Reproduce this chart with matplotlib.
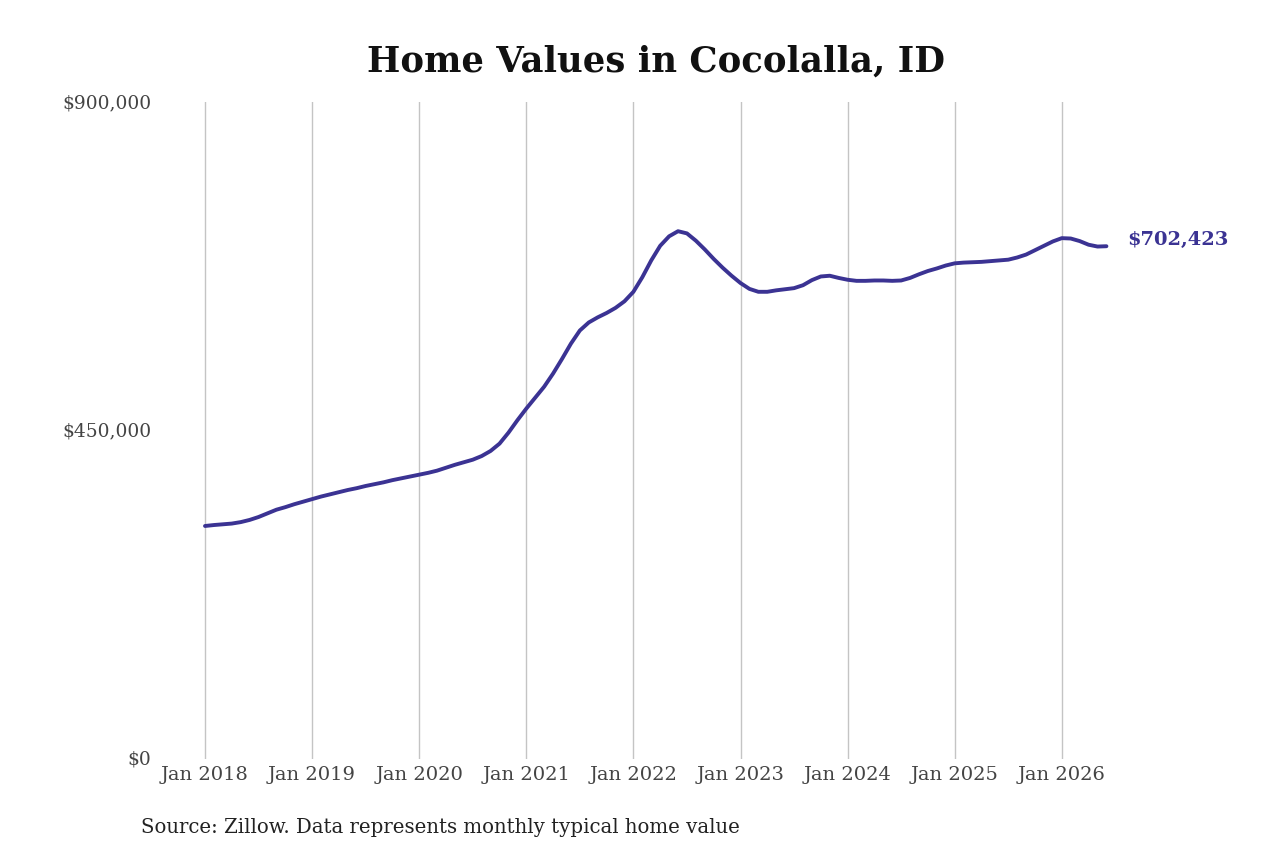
import matplotlib
matplotlib.use("Agg")
import matplotlib.pyplot as plt
from matplotlib.ticker import FuncFormatter

# Monthly typical home value, Jan 2018 .. Jun 2026 (in thousands of dollars)
values_k = [
    319.2, 320.5, 321.5, 322.5, 324.5, 327.5, 331.5, 336.5, 341.5, 345, 349, 352.5,
    356, 359.5, 362.5, 365.5, 368.5, 371, 374, 376.5, 379, 382, 384.5, 387,
    389.5, 392, 395, 399, 403, 406.5, 410, 415, 422, 432, 447, 464,
    480, 495, 510, 528, 548, 569, 587, 598, 605, 611, 618, 627,
    640, 660, 683, 703, 716, 723, 720, 710, 698, 685, 673, 662,
    652, 644, 640, 640, 642, 643.5, 645, 649, 656, 661, 662, 659,
    656.5, 655, 655, 655.5, 655.5, 655, 655.5, 659, 664, 668.5, 672, 676,
    679, 680, 680.5, 681, 682, 683, 684, 687, 691, 697, 703, 709,
    713.5, 713, 709.5, 704.5, 702, 702.423,
]
months = list(range(len(values_k)))
tick_years = [2018, 2019, 2020, 2021, 2022, 2023, 2024, 2025, 2026]
tick_labels = [f"Jan {y}" for y in tick_years]
ytick_values = [0, 450000, 900000]
title = "Home Values in Cocolalla, ID"
source = "Source: Zillow. Data represents monthly typical home value"
last_label = "$702,423"

line_color = "#3b3393"
values = [v * 1000 for v in values_k]

plt.rcParams['font.family'] = ['DejaVu Serif']
fig = plt.figure(figsize=(12.8, 8.53), dpi=100)
W, H = 1280, 853
left_px, right_px, top_px, bottom_px = 190, 1115, 103, 760
ax = fig.add_axes([left_px / W, 1 - bottom_px / H, (right_px - left_px) / W, (bottom_px - top_px) / H])

ax.plot(months, values, color=line_color, linewidth=2.8, solid_capstyle='round')

# x mapping: Jan 2018 at px 205, 8.925 px per month
px_per_month = 8.925
x0 = (left_px - 205) / px_per_month
x1 = (right_px - 205) / px_per_month
ax.set_xlim(x0, x1)
ax.set_ylim(0, 900000)

ax.set_xticks([(y - 2018) * 12 for y in tick_years])
ax.set_xticklabels(tick_labels)
ax.set_yticks(ytick_values)
ax.yaxis.set_major_formatter(FuncFormatter(lambda v, p: f"${v:,.0f}"))

for s in ax.spines.values():
    s.set_visible(False)
ax.grid(axis='x', color='#c4c4c4', linewidth=1.0)
ax.grid(axis='y', visible=False)
ax.tick_params(axis='both', length=0, colors='#444444')
ax.tick_params(axis='y', pad=28, labelsize=13.4)
ax.tick_params(axis='x', pad=4, labelsize=14)
for lbl in ax.get_yticklabels():
    lbl.set_verticalalignment('center')

ax.annotate(last_label, xy=(months[-1], values[-1]), xytext=(15, 5),
            textcoords='offset points', ha='left', va='center',
            fontsize=14, fontweight='bold', color=line_color)

fig.text(656 / W, 1 - 62 / H, title, ha='center', va='center',
         fontsize=25.5, fontweight='bold', color='#111111')
fig.text(141 / W, 1 - 828 / H, source, ha='left', va='center',
         fontsize=14.2, color='#222222')

fig.savefig("out.png", dpi=100, facecolor='white')
